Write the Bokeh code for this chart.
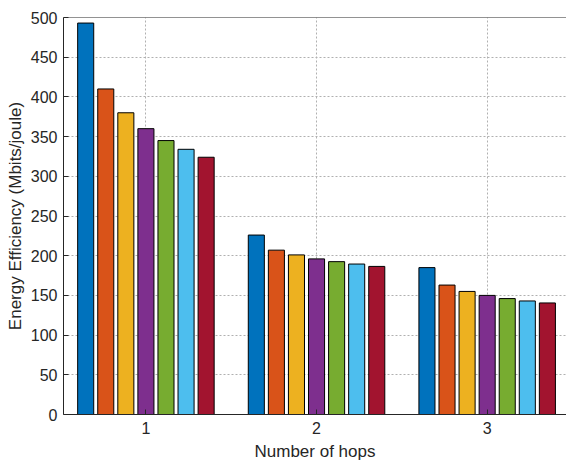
from bokeh.plotting import figure
from bokeh.models import FixedTicker, Range1d, Span
from bokeh.embed import file_html
from bokeh.resources import INLINE

hops = [1, 2, 3]
s1 = [493, 226, 185]
s2 = [410, 207, 163]
s3 = [380, 201, 155]
s4 = [360, 196, 150]
s5 = [345, 192.5, 146]
s6 = [334, 189.5, 143]
s7 = [324, 186.5, 140.5]
series = [s1, s2, s3, s4, s5, s6, s7]
colors = ["#0072BD", "#D95319", "#EDB120", "#7E2F8E", "#77AC30", "#4DBEEE", "#A2142F"]
y_ticks = list(range(0, 501, 50))

FONT = "Liberation Sans"
AX = "#262626"

p = figure(width=566, height=463, output_backend="svg", toolbar_location=None,
           x_range=Range1d(0.517, 3.465), y_range=Range1d(0, 500),
           min_border_left=63, min_border_right=0, min_border_top=17, min_border_bottom=48,
           x_axis_label="Number of hops", y_axis_label="Energy Efficiency (Mbits/joule)")
p.outline_line_color = None

n = len(series)
pitch = 0.8235 / n
bw = pitch * 0.8
for i, (vals, c) in enumerate(zip(series, colors)):
    xs = [h + (i - (n - 1) / 2) * pitch for h in hops]
    p.vbar(x=xs, top=vals, width=bw, bottom=0, fill_color=c, line_color="black", line_width=1)

p.xaxis.ticker = FixedTicker(ticks=hops)
p.yaxis.ticker = FixedTicker(ticks=y_ticks)

for ax in [p.xaxis[0], p.yaxis[0]]:
    ax.major_tick_in = 5
    ax.major_tick_out = 0
    ax.minor_tick_in = 0
    ax.minor_tick_out = 0
    ax.axis_line_color = AX
    ax.major_tick_line_color = AX
    ax.major_label_text_color = AX
    ax.major_label_text_font = FONT
    ax.major_label_text_font_size = "16px"
    ax.axis_label_text_font = FONT
    ax.axis_label_text_font_size = "17px"
    ax.axis_label_text_font_style = "normal"
    ax.axis_label_text_color = AX

p.xaxis.major_label_standoff = 7
p.xaxis.axis_label_standoff = 5
p.yaxis.major_label_standoff = 6
p.yaxis.axis_label_standoff = 3

p.add_layout(Span(location=p.y_range.end, dimension="width", line_color=AX, line_width=1))

for g in [p.xgrid[0], p.ygrid[0]]:
    g.grid_line_color = "#b0b0b0"
    g.grid_line_dash = "2 2"
    g.grid_line_width = 1
p.xgrid.ticker = FixedTicker(ticks=hops)
p.ygrid.ticker = FixedTicker(ticks=y_ticks)

open("out.html", "w").write(file_html(p, INLINE))
